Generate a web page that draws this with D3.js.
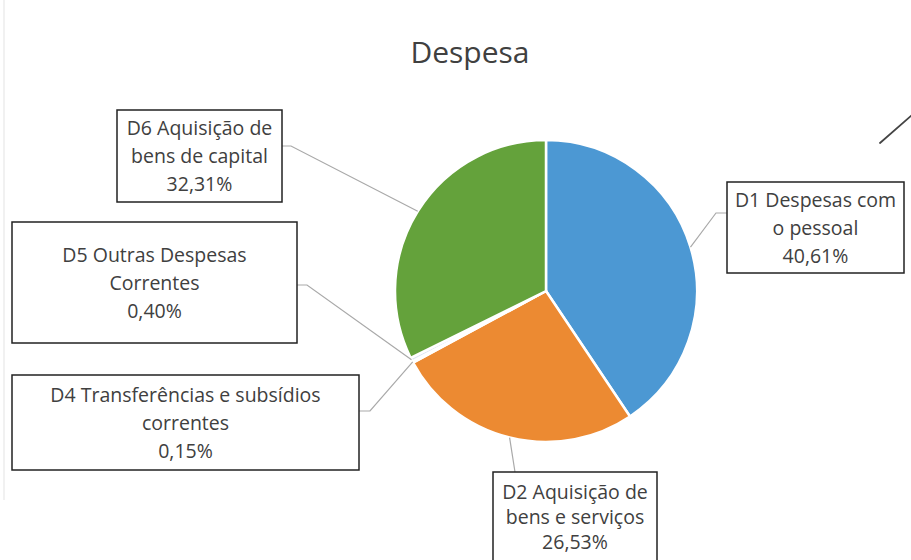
<!DOCTYPE html>
<html>
<head>
<meta charset="utf-8">
<script src="https://cdn.jsdelivr.net/npm/d3@7"></script>
<style>
  body { margin: 0; background: #fff; }
  svg { display: block; }
</style>
</head>
<body>
<div id="chart"></div>
<script>
// data
const categories = ['D1 Despesas com o pessoal', 'D2 Aquisição de bens e serviços',
    'D4 Transferências e subsídios correntes', 'D5 Outras Despesas Correntes',
    'D6 Aquisição de bens de capital'];
const shares = [40.61, 26.53, 0.15, 0.40, 32.31];
// how each label is broken into lines
const labelLines = [
    ['D1 Despesas com', 'o pessoal'],
    ['D2 Aquisição de', 'bens e serviços'],
    ['D4 Transferências e subsídios', 'correntes'],
    ['D5 Outras Despesas', 'Correntes'],
    ['D6 Aquisição de', 'bens de capital']
];
const colours = ['#4c98d3', '#ec8a32', '#f6e7c8', '#dfe7f3', '#64a23b'];

const width = 911;
const height = 560;
const cx = 546, cy = 291, r = 151;

// label boxes: [x0, y0, x1, y1] and where the leader line meets the box
const boxes = [
    {b: [727, 182, 904, 273], anchor: [727, 213], elbow: [716, 213]},
    {b: [493, 472, 657, 580], anchor: [515, 472], elbow: [515, 472]},
    {b: [12, 375, 359, 470], anchor: [359, 411], elbow: [370, 411]},
    {b: [12, 222, 297, 343], anchor: [297, 285], elbow: [307, 285]},
    {b: [117, 110, 282, 202], anchor: [282, 146], elbow: [291, 146]}
];

const fmt = v => v.toFixed(2).replace('.', ',') + '%';
const font = '"Open Sans", Lato, sans-serif';

const svg = d3.select('#chart')
    .append('svg')
        .attr('width', width)
        .attr('height', height);

// faint scan border on the left
svg.append('line')
    .attr('x1', 4).attr('x2', 4)
    .attr('y1', 0).attr('y2', 500)
    .attr('stroke', '#ececec')
    .attr('stroke-width', 1.5);

// title
svg.append('text')
    .attr('x', 470)
    .attr('y', 63)
    .attr('text-anchor', 'middle')
    .attr('font-family', font)
    .attr('font-size', 30)
    .attr('fill', '#404040')
    .text('Despesa');

// PIE
const pie = d3.pie().sort(null).value(d => d);
const arcs = pie(shares);
const arc = d3.arc().innerRadius(0).outerRadius(r);

const g = svg.append('g')
    .attr('transform', `translate(${cx},${cy})`);

g.selectAll('path')
    .data(arcs)
    .join('path')
        .attr('d', arc)
        .attr('fill', (d, i) => colours[i])
        .attr('stroke', '#fff')
        .attr('stroke-width', 2.5)
        .attr('stroke-linejoin', 'round');

// leader lines, from the slice edge to the box
const edge = d3.arc().innerRadius(r).outerRadius(r);
svg.append('g')
    .selectAll('polyline')
    .data(arcs)
    .join('polyline')
        .attr('points', (d, i) => {
            const p = edge.centroid(d);
            const bx = boxes[i];
            return [[cx + p[0], cy + p[1]], bx.elbow, bx.anchor].map(q => q.join(',')).join(' ');
        })
        .attr('fill', 'none')
        .attr('stroke', '#a9a9a9')
        .attr('stroke-width', 1.2);

// label boxes
const lab = svg.append('g')
    .selectAll('g')
    .data(arcs)
    .join('g');

lab.append('rect')
    .attr('x', (d, i) => boxes[i].b[0])
    .attr('y', (d, i) => boxes[i].b[1])
    .attr('width', (d, i) => boxes[i].b[2] - boxes[i].b[0])
    .attr('height', (d, i) => boxes[i].b[3] - boxes[i].b[1])
    .attr('fill', '#fff')
    .attr('stroke', '#222')
    .attr('stroke-width', 1.5);

lab.append('text')
    .attr('text-anchor', 'middle')
    .attr('font-family', font)
    .attr('font-size', 19.5)
    .attr('fill', '#404040')
    .each(function(d, i) {
        const bx = boxes[i].b;
        const lines = labelLines[i].concat([fmt(d.data)]);
        const lh = i === 1 ? 25 : 28;
        const mid = i === 1 ? 517 : (bx[1] + bx[3]) / 2;
        const x = (bx[0] + bx[2]) / 2;
        d3.select(this).selectAll('tspan')
            .data(lines)
            .join('tspan')
                .attr('x', x)
                .attr('y', (t, k) => mid + (k - 1) * lh + 7)
                .text(t => t);
    });

// stray pen stroke at the top right of the scan
svg.append('line')
    .attr('x1', 880).attr('y1', 143)
    .attr('x2', 912).attr('y2', 115)
    .attr('stroke', '#444')
    .attr('stroke-width', 1.8)
    .attr('stroke-linecap', 'round');
</script>
</body>
</html>
